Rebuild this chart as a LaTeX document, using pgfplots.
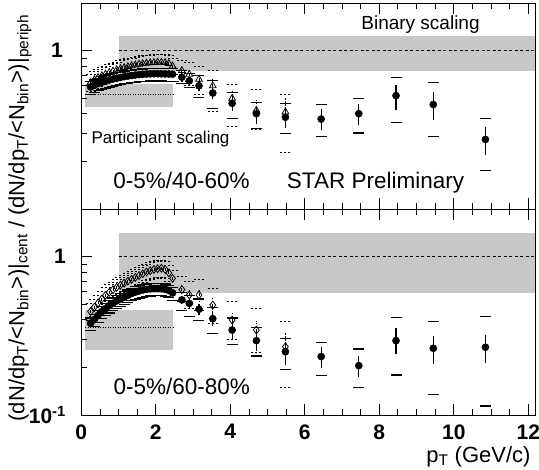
\documentclass[border=0pt]{standalone}
\usepackage{fontspec}
\setmainfont{Liberation Sans}
\usepackage{pgfplots}
\usepackage{pgfplotstable}
\pgfplotsset{compat=1.18}
\definecolor{band}{HTML}{C8C8C8}

% x  y  stat-down  stat-up  sys-low  sys-high
\pgfplotstableread{
x y sdn sup cdn cup
0.25 0.59 0.01 0.01 0.531 0.637
0.35 0.605 0.01 0.01 0.545 0.653
0.45 0.62 0.01 0.01 0.558 0.670
0.55 0.632 0.01 0.01 0.569 0.683
0.65 0.643 0.01 0.01 0.579 0.694
0.75 0.653 0.01 0.01 0.588 0.705
0.85 0.662 0.01 0.01 0.596 0.715
0.95 0.67 0.01 0.01 0.603 0.724
1.05 0.678 0.01 0.01 0.610 0.732
1.15 0.685 0.01 0.01 0.617 0.740
1.25 0.691 0.01 0.01 0.622 0.746
1.35 0.697 0.01 0.01 0.627 0.753
1.45 0.702 0.01 0.01 0.632 0.758
1.55 0.706 0.01 0.01 0.635 0.762
1.65 0.709 0.01 0.01 0.638 0.766
1.75 0.712 0.012 0.012 0.641 0.769
1.85 0.714 0.012 0.012 0.643 0.771
1.95 0.715 0.012 0.012 0.644 0.772
2.05 0.715 0.014 0.014 0.644 0.772
2.15 0.714 0.014 0.014 0.643 0.771
2.25 0.713 0.016 0.016 0.642 0.770
2.35 0.712 0.016 0.016 0.641 0.769
2.45 0.71 0.02 0.02 0.639 0.767
2.7 0.68 0.03 0.03 0.62 0.75
2.9 0.645 0.035 0.035 0.588 0.72
3.16 0.60 0.04 0.04 0.504 0.696
3.53 0.54 0.045 0.045 0.43 0.648
4.05 0.465 0.05 0.05 0.372 0.547
4.7 0.40 0.05 0.05 0.324 0.473
5.48 0.38 0.051 0.06 0.299 0.462
6.44 0.37 0.056 0.06 0.288 0.456
7.45 0.40 0.062 0.062 0.302 0.497
8.45 0.52 0.097 0.091 0.351 0.679
9.45 0.457 0.091 0.09 0.288 0.626
10.85 0.275 0.056 0.054 0.174 0.375
}\topfilled

\pgfplotstableread{
x y sdn sup cdn cup
0.25 0.63 0.015 0.015 0.554 0.706
0.35 0.655 0.015 0.015 0.576 0.734
0.45 0.675 0.015 0.015 0.594 0.756
0.55 0.695 0.015 0.015 0.612 0.778
0.65 0.712 0.015 0.015 0.627 0.797
0.75 0.728 0.015 0.015 0.641 0.815
0.85 0.743 0.015 0.015 0.654 0.832
0.95 0.757 0.015 0.015 0.666 0.848
1.05 0.77 0.015 0.015 0.678 0.862
1.15 0.782 0.015 0.015 0.688 0.876
1.25 0.793 0.015 0.015 0.698 0.888
1.35 0.803 0.015 0.015 0.707 0.899
1.45 0.812 0.018 0.018 0.715 0.909
1.55 0.82 0.018 0.018 0.722 0.918
1.65 0.827 0.018 0.018 0.728 0.926
1.75 0.833 0.02 0.02 0.733 0.933
1.85 0.838 0.02 0.02 0.737 0.939
1.95 0.842 0.02 0.02 0.741 0.943
2.05 0.845 0.022 0.022 0.744 0.946
2.15 0.845 0.022 0.022 0.744 0.946
2.25 0.84 0.025 0.025 0.739 0.941
2.35 0.83 0.025 0.025 0.730 0.930
2.45 0.80 0.03 0.03 0.704 0.896
2.7 0.75 0.04 0.04 0.64 0.87
2.9 0.71 0.04 0.04 0.60 0.84
3.16 0.66 0.05 0.05 0.53 0.80
3.53 0.60 0.06 0.06 0.415 0.75
4.05 0.50 0.07 0.07 0.333 0.611
4.7 0.42 0.08 0.08 0.317 0.566
5.48 0.41 0.09 0.09 0.229 0.526
}\topopen

\pgfplotstableread{
x y sdn sup cdn cup
0.25 0.38 0.008 0.008 0.342 0.410
0.35 0.40 0.008 0.008 0.36 0.432
0.45 0.425 0.008 0.008 0.383 0.459
0.55 0.45 0.008 0.008 0.405 0.486
0.65 0.47 0.008 0.008 0.423 0.508
0.75 0.49 0.008 0.008 0.441 0.529
0.85 0.507 0.008 0.008 0.456 0.548
0.95 0.525 0.008 0.008 0.473 0.567
1.05 0.54 0.008 0.008 0.486 0.583
1.15 0.555 0.008 0.008 0.50 0.599
1.25 0.57 0.008 0.008 0.513 0.616
1.35 0.585 0.008 0.008 0.527 0.632
1.45 0.597 0.01 0.01 0.537 0.645
1.55 0.607 0.01 0.01 0.546 0.656
1.65 0.616 0.01 0.01 0.554 0.665
1.75 0.622 0.01 0.01 0.560 0.672
1.85 0.627 0.012 0.012 0.564 0.677
1.95 0.63 0.012 0.012 0.567 0.680
2.05 0.63 0.012 0.012 0.567 0.680
2.15 0.628 0.014 0.014 0.565 0.678
2.25 0.622 0.014 0.014 0.560 0.672
2.35 0.612 0.016 0.016 0.551 0.661
2.45 0.59 0.02 0.02 0.531 0.637
2.7 0.533 0.03 0.03 0.456 0.59
2.9 0.507 0.03 0.03 0.418 0.57
3.16 0.466 0.035 0.035 0.394 0.54
3.53 0.406 0.04 0.04 0.328 0.48
4.05 0.344 0.04 0.04 0.28 0.41
4.7 0.295 0.04 0.04 0.236 0.355
5.48 0.251 0.044 0.032 0.193 0.305
6.44 0.234 0.036 0.036 0.177 0.287
7.45 0.205 0.03 0.031 0.149 0.261
8.45 0.295 0.052 0.058 0.179 0.414
9.45 0.264 0.054 0.051 0.134 0.388
10.85 0.268 0.054 0.054 0.114 0.418
}\botfilled

\pgfplotstableread{
x y sdn sup cdn cup
0.25 0.45 0.015 0.015 0.396 0.504
0.35 0.48 0.015 0.015 0.422 0.538
0.45 0.51 0.015 0.015 0.449 0.571
0.55 0.54 0.015 0.015 0.475 0.605
0.65 0.57 0.015 0.015 0.502 0.638
0.75 0.595 0.015 0.015 0.524 0.666
0.85 0.618 0.015 0.015 0.544 0.692
0.95 0.64 0.015 0.015 0.563 0.717
1.05 0.66 0.015 0.015 0.581 0.739
1.15 0.68 0.015 0.015 0.598 0.762
1.25 0.70 0.015 0.015 0.616 0.784
1.35 0.72 0.018 0.018 0.634 0.806
1.45 0.74 0.018 0.018 0.651 0.829
1.55 0.76 0.018 0.018 0.669 0.851
1.65 0.78 0.02 0.02 0.686 0.874
1.75 0.80 0.02 0.02 0.704 0.896
1.85 0.815 0.02 0.02 0.717 0.913
1.95 0.83 0.022 0.022 0.730 0.930
2.05 0.84 0.022 0.022 0.739 0.941
2.15 0.845 0.025 0.025 0.744 0.946
2.25 0.83 0.025 0.025 0.730 0.930
2.35 0.79 0.03 0.03 0.695 0.885
2.45 0.73 0.03 0.03 0.642 0.818
2.7 0.62 0.04 0.04 0.52 0.75
2.9 0.573 0.04 0.04 0.47 0.70
3.16 0.573 0.05 0.05 0.46 0.72
3.53 0.495 0.05 0.05 0.38 0.632
4.05 0.398 0.05 0.05 0.30 0.52
4.7 0.344 0.05 0.05 0.25 0.472
5.48 0.27 0.06 0.06 0.149 0.388
}\botopen

\pgfplotsset{
  filled/.style={only marks, mark=*, mark size=3.6bp, black,
    error bars/y dir=both, error bars/y explicit, error bars/error mark=none,
    error bars/error bar style={line width=1.1bp}},
  hollow/.style={only marks, mark size=3.9bp, black, mark options={solid, line width=0.8bp},
    error bars/y dir=both, error bars/y explicit, error bars/error mark=none,
    error bars/error bar style={line width=0.8bp, dash pattern=on 1.5bp off 1.5bp}},
  cap/.style={only marks, mark=-, mark size=5.5bp, black, mark options={line width=1.1bp}},
  dcap/.style={only marks, mark=-, mark size=5bp, black,
    mark options={line width=0.9bp, dash pattern=on 2bp off 2bp}},
}
\newcommand{\lbl}{\fontsize{21bp}{21bp}\selectfont\bfseries}

\begin{document}
\begin{tikzpicture}
\useasboundingbox (0,0) rectangle (539bp,470bp);

% top panel: 0-5%/40-60%
\begin{axis}[at={(81.3bp,261bp)}, anchor=south west,
    scale only axis, width=454.4bp, height=206bp,
    xmin=0, xmax=12.2, ymode=log, ymin=0.1, ymax=2,
    axis line style={line width=0.9bp}, tick style={black, line width=0.8bp},
    tick align=inside, axis on top,
    xtick={0,2,4,6,8,10,12}, minor x tick num=3, xtick pos=both,
    xticklabels={,,,,,,},
    ytick={0.1,1}, minor ytick={0.2,0.3,0.4,0.5,0.6,0.7,0.8,0.9,2}, ytick pos=left,
    yticklabels={,1},
    major tick length=11bp, minor tick length=6bp,
    yticklabel style={font=\lbl, xshift=-15bp}]
\addplot[fill=band, draw=none] coordinates {(1,0.74) (12.2,0.74) (12.2,1.24) (1,1.24)};
\addplot[fill=band, draw=none] coordinates {(0.1,0.44) (2.45,0.44) (2.45,0.62) (0.1,0.62)};
\addplot[black, line width=0.8bp, dash pattern=on 3bp off 2.5bp] coordinates {(1,1) (12.2,1)};
\addplot[black, line width=0.8bp, dash pattern=on 1bp off 1.5bp] coordinates {(0.1,0.526) (2.45,0.526)};
\addplot[mark=triangle, hollow] table[x=x, y=y, y error minus=sdn, y error plus=sup]{\topopen};
\addplot[dcap] table[x=x, y=cdn]{\topopen};
\addplot[dcap] table[x=x, y=cup]{\topopen};
\addplot[filled] table[x=x, y=y, y error minus=sdn, y error plus=sup]{\topfilled};
\addplot[cap] table[x=x, y=cdn]{\topfilled};
\addplot[cap] table[x=x, y=cup]{\topfilled};
\end{axis}

% bottom panel: 0-5%/60-80%
\begin{axis}[at={(81.3bp,55bp)}, anchor=south west,
    scale only axis, width=454.4bp, height=206bp,
    xmin=0, xmax=12.2, ymode=log, ymin=0.1, ymax=2,
    axis line style={line width=0.9bp}, tick style={black, line width=0.8bp},
    tick align=inside, axis on top,
    xtick={0,2,4,6,8,10,12}, minor x tick num=3, xtick pos=both,
    xticklabels={0,2,4,6,8,10,12},
    ytick={0.1,1}, minor ytick={0.2,0.3,0.4,0.5,0.6,0.7,0.8,0.9,2}, ytick pos=left,
    yticklabels={10\textsuperscript{-1},1\hspace{3bp}},
    major tick length=11bp, minor tick length=6bp,
    yticklabel style={font=\lbl, xshift=-12bp},
    xticklabel style={font=\lbl, yshift=-6bp}]
\addplot[fill=band, draw=none] coordinates {(1,0.593) (12.2,0.593) (12.2,1.41) (1,1.41)};
\addplot[fill=band, draw=none] coordinates {(0.1,0.257) (2.45,0.257) (2.45,0.46) (0.1,0.46)};
\addplot[black, line width=0.8bp, dash pattern=on 3bp off 2.5bp] coordinates {(1,1) (12.2,1)};
\addplot[black, line width=0.8bp, dash pattern=on 1bp off 1.5bp] coordinates {(0.1,0.36) (2.45,0.36)};
\addplot[mark=diamond, hollow] table[x=x, y=y, y error minus=sdn, y error plus=sup]{\botopen};
\addplot[dcap] table[x=x, y=cdn]{\botopen};
\addplot[dcap] table[x=x, y=cup]{\botopen};
\addplot[filled] table[x=x, y=y, y error minus=sdn, y error plus=sup]{\botfilled};
\addplot[cap] table[x=x, y=cdn]{\botfilled};
\addplot[cap] table[x=x, y=cup]{\botfilled};
\end{axis}

\node[anchor=base, font=\fontsize{19bp}{19bp}\selectfont] at (420.5bp,440.7bp) {Binary scaling};
\node[anchor=base, font=\fontsize{17bp}{17bp}\selectfont] at (160.5bp,326.7bp) {Participant scaling};
\node[anchor=base, font=\fontsize{22.5bp}{22.5bp}\selectfont] at (181.5bp,281.7bp) {0-5\%/40-60\%};
\node[anchor=base, font=\fontsize{22.5bp}{22.5bp}\selectfont] at (375.5bp,281.7bp) {STAR Preliminary};
\node[anchor=base, font=\fontsize{22.5bp}{22.5bp}\selectfont] at (181.7bp,75bp) {0-5\%/60-80\%};
\node[anchor=base east, font=\fontsize{22bp}{22bp}\selectfont] at (534bp,8bp) {p\textsubscript{T} (GeV/c)};
\node[rotate=90, anchor=center, font=\fontsize{22bp}{22bp}\selectfont] at (20bp,252bp)
  {(dN/dp\textsubscript{T}/<N\textsubscript{bin}>)|\textsubscript{cent} / (dN/dp\textsubscript{T}/<N\textsubscript{bin}>)|\textsubscript{periph}};
\end{tikzpicture}
\end{document}
